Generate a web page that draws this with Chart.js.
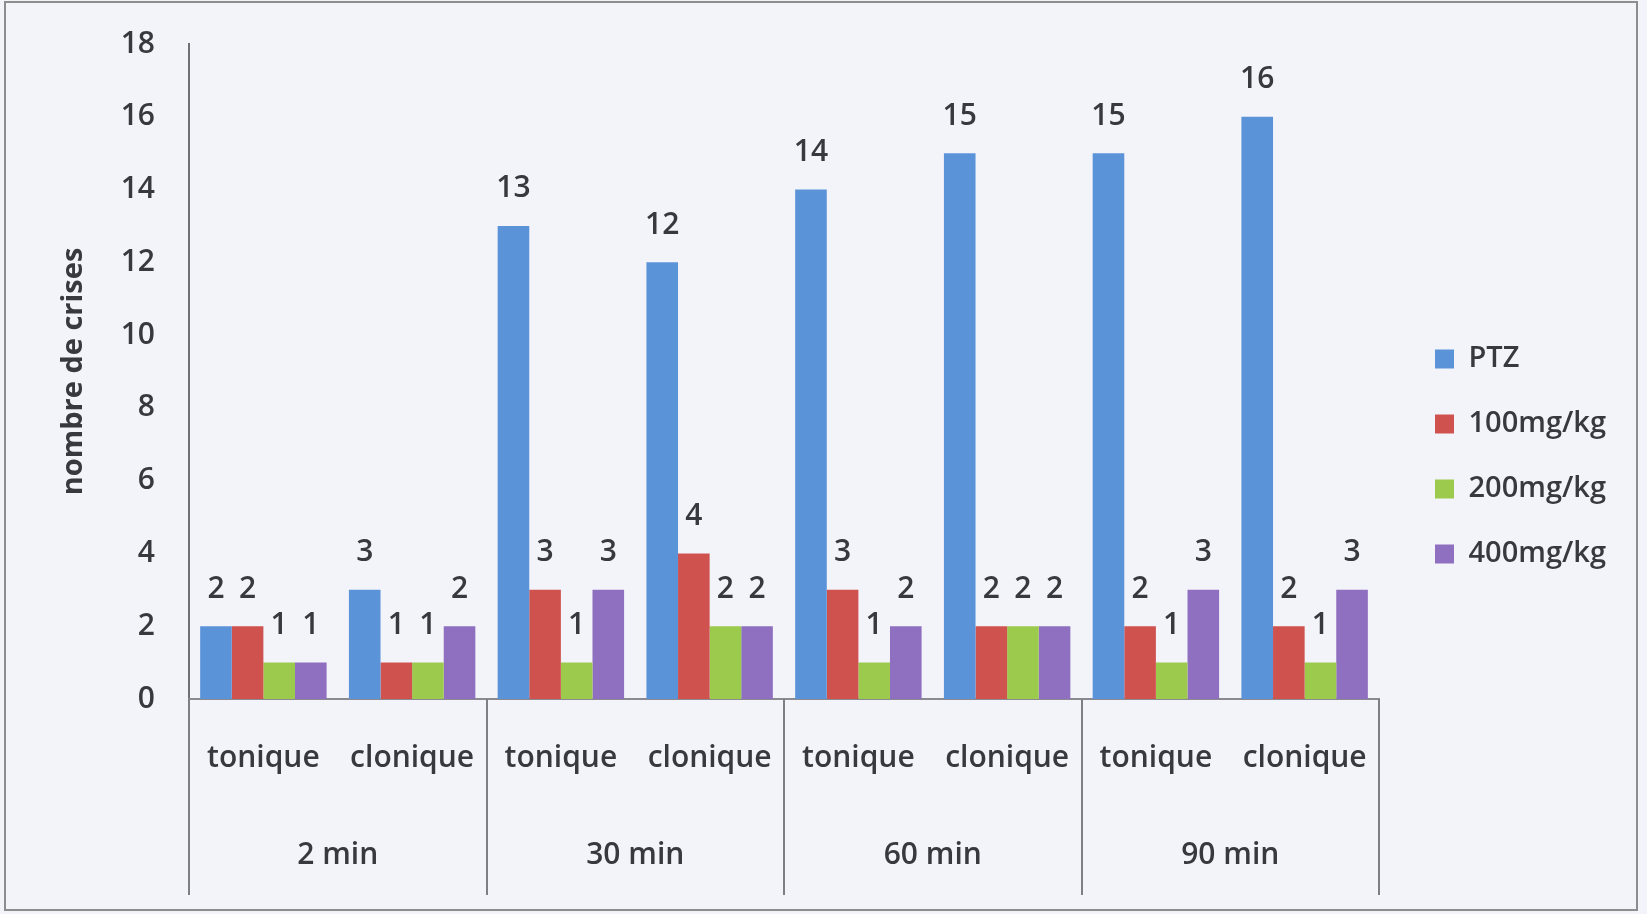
<!DOCTYPE html>
<html>
<head>
<meta charset="utf-8">
<script src="https://cdn.jsdelivr.net/npm/chart.js@4.4.0/dist/chart.umd.min.js"></script>
<style>
  html, body { margin: 0; padding: 0; background: #f3f4f9; }
  #wrap { position: absolute; left: 0; top: 0; width: 1647px; height: 914px; }
  #frame { position: absolute; left: 4px; top: 1px; width: 1630px; height: 906px; border: 2px solid #8d8d8f; pointer-events: none; }
  canvas { position: absolute; left: 0; top: 0; }
</style>
</head>
<body>
<div id="wrap">
  <canvas id="c" width="1647" height="914"></canvas>
  <div id="frame"></div>
</div>
<script>
const subCategories = ['tonique', 'clonique', 'tonique', 'clonique', 'tonique', 'clonique', 'tonique', 'clonique'];
const groups = ['2 min', '30 min', '60 min', '90 min'];
const seriesNames = ['PTZ', '100mg/kg', '200mg/kg', '400mg/kg'];
const ptz = [2, 3, 13, 12, 14, 15, 15, 16];
const dose100 = [2, 1, 3, 4, 3, 2, 2, 2];
const dose200 = [1, 1, 1, 2, 1, 2, 1, 1];
const dose400 = [1, 2, 3, 2, 2, 2, 3, 3];
const yTicks = [0, 2, 4, 6, 8, 10, 12, 14, 16, 18];
const yTitle = 'nombre de crises';

const colors = ['#5b93d9', '#cf524f', '#9bca4c', '#8f6fbf'];
const FONT = "'Open Sans', 'Liberation Sans', sans-serif";
const TXT = '#38383f';
const W = 600;

const valueLabels = {
  id: 'valueLabels',
  afterDatasetsDraw(chart) {
    const ctx = chart.ctx;
    ctx.save();
    ctx.font = W + ' 30px ' + FONT;
    ctx.fillStyle = TXT;
    ctx.textAlign = 'center';
    ctx.textBaseline = 'middle';
    chart.data.datasets.forEach((ds, i) => {
      const meta = chart.getDatasetMeta(i);
      meta.data.forEach((bar, j) => {
        ctx.fillText(String(ds.data[j]), bar.x, bar.y - 37);
      });
    });
    ctx.restore();
  }
};

const groupDividers = {
  id: 'groupDividers',
  afterDraw(chart) {
    const xs = chart.scales.x2;
    const ctx = chart.ctx;
    const half = (xs.getPixelForValue(1) - xs.getPixelForValue(0)) / 2;
    ctx.save();
    ctx.strokeStyle = '#7e7e84';
    ctx.lineWidth = 2;
    for (let i = 0; i <= groups.length; i++) {
      const px = Math.round(xs.getPixelForValue(i) - half);
      ctx.beginPath();
      ctx.moveTo(px, chart.chartArea.bottom);
      ctx.lineTo(px, xs.bottom);
      ctx.stroke();
    }
    ctx.restore();
  }
};

// widen the gap between plot area and legend (legend drawn at its natural place)
const legendGap = {
  id: 'legendGap',
  afterInit(chart) {
    const lg = chart.legend;
    if (!lg || lg._gapPatched) return;
    lg._gapPatched = true;
    const GAP = 20, SHIFT_Y = -5;
    const origFit = lg.fit;
    lg.fit = function () { origFit.call(this); this.width += GAP; };
    const origDraw = lg.draw;
    lg.draw = function (area) {
      const ctx = this.ctx;
      ctx.save();
      ctx.translate(GAP, SHIFT_Y);
      origDraw.call(this, area);
      ctx.restore();
    };
  }
};

new Chart(document.getElementById('c'), {
  type: 'bar',
  data: {
    labels: subCategories,
    datasets: [
      { label: seriesNames[0], data: ptz, backgroundColor: colors[0] },
      { label: seriesNames[1], data: dose100, backgroundColor: colors[1] },
      { label: seriesNames[2], data: dose200, backgroundColor: colors[2] },
      { label: seriesNames[3], data: dose400, backgroundColor: colors[3] }
    ]
  },
  options: {
    responsive: false,
    animation: false,
    devicePixelRatio: 1,
    layout: { padding: { left: 0, right: 31, top: 28, bottom: 19 } },
    datasets: { bar: { categoryPercentage: 0.85, barPercentage: 1.0 } },
    plugins: {
      legend: {
        position: 'right',
        align: 'center',
        labels: {
          font: { family: FONT, size: 29, weight: W },
          color: TXT,
          boxWidth: 19,
          boxHeight: 19,
          padding: 36
        }
      },
      tooltip: { enabled: false },
      title: { display: false }
    },
    scales: {
      y: {
        min: 0,
        max: 18,
        afterBuildTicks(scale) { scale.ticks = yTicks.map(v => ({ value: v })); },
        afterFit(scale) { scale.width = 189; },
        grid: { display: false },
        border: { display: true, color: '#707076', width: 2 },
        ticks: { font: { family: FONT, size: 30, weight: W }, color: TXT, padding: 26 },
        title: { display: true, text: yTitle, font: { family: FONT, size: 29, weight: 'bold' }, color: TXT, padding: { top: 56, bottom: 0 } }
      },
      x: {
        position: 'bottom',
        grid: { display: false },
        border: { display: true, color: '#8a8a90', width: 2 },
        ticks: { font: { family: FONT, size: 30, weight: W }, color: TXT, padding: 33, maxRotation: 0, autoSkip: false },
        afterFit(scale) { scale.height = 80; }
      },
      x2: {
        type: 'category',
        position: 'bottom',
        labels: groups,
        offset: true,
        grid: { display: false },
        border: { display: false },
        ticks: { font: { family: FONT, size: 30, weight: W }, color: TXT, padding: 50, maxRotation: 0, autoSkip: false },
        afterFit(scale) { scale.height = 116; }
      }
    }
  },
  plugins: [valueLabels, groupDividers, legendGap]
});
</script>
</body>
</html>
